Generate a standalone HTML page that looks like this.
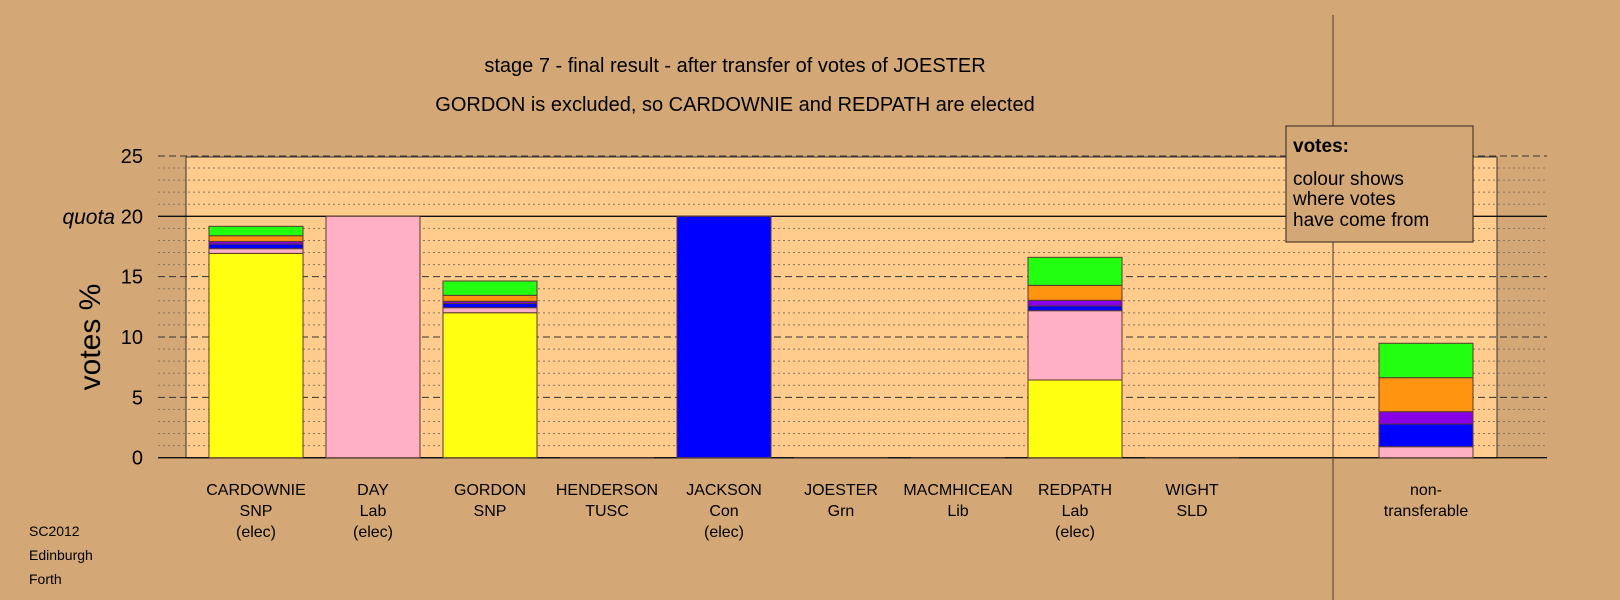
<!DOCTYPE html>
<html><head><meta charset="utf-8">
<style>
body{margin:0;background:#d4a876;}
svg{display:block;font-family:"Liberation Sans",sans-serif;}
</style></head>
<body>
<svg id="chart" width="1620" height="600" xmlns="http://www.w3.org/2000/svg">
<rect width="1620" height="600" fill="#d4a876"/>
<rect x="186" y="157" width="1311" height="301" fill="#ffcc8e" stroke="#333" stroke-width="1"/>
<g id="grid"></g>
<line x1="1333" y1="15" x2="1333" y2="600" stroke="#4a3a2a" stroke-width="1"/>
<g id="bars"></g>
<g id="ylabels"></g>
<g id="xlabels"></g>
<text x="735" y="72" font-size="20" text-anchor="middle">stage 7 - final result - after transfer of votes of JOESTER</text>
<text x="735" y="111" font-size="20" text-anchor="middle">GORDON is excluded, so CARDOWNIE and REDPATH are elected</text>
<text transform="translate(100,337) rotate(-90)" font-size="30" text-anchor="middle">votes %</text>
<text x="115" y="224" font-size="21" font-style="italic" text-anchor="end">quota</text>
<g>
<rect x="1286" y="126" width="187" height="116" fill="#d4a876" stroke="#4a3a2a" stroke-width="1.2"/>
<text x="1293" y="152" font-size="19" font-weight="bold">votes:</text>
<text x="1293" y="185" font-size="19">colour shows</text>
<text x="1293" y="205" font-size="19">where votes</text>
<text x="1293" y="226" font-size="19">have come from</text>
</g>
<g font-size="14">
<text x="29" y="536">SC2012</text>
<text x="29" y="560">Edinburgh</text>
<text x="29" y="584">Forth</text>
</g>
</svg>
<script>
const categories=["CARDOWNIE","DAY","GORDON","HENDERSON","JACKSON","JOESTER","MACMHICEAN","REDPATH","WIGHT","","non-"];
const parties=["SNP","Lab","SNP","TUSC","Con","Grn","Lib","Lab","SLD","","transferable"];
const elected=["(elec)","(elec)","","","(elec)","","","(elec)","","",""];
const segColors=["#ffff12","#ffb0c4","#ffb0c4","#0000ff","#8a00e6","#ff9410","#22ff11"];
const firstPref=[16.93,0,12.01,0,0,0,0,6.44,0,0,0];
const pinkVotes=[0.39,20,0.42,0,0,0,0,5.74,0,0,0.91];
const blueVotes=[0.38,0,0.36,0,20,0,0,0.39,0,0,1.88];
const purpleVotes=[0.22,0,0.17,0,0,0,0,0.47,0,0,1.02];
const orangeVotes=[0.47,0,0.49,0,0,0,0,1.24,0,0,2.82];
const greenVotes=[0.78,0,1.19,0,0,0,0,2.32,0,0,2.85];
const yTicks=[0,5,10,15,20,25];
const NS="http://www.w3.org/2000/svg";
const y0=457.7,yUnit=12.07,barX0=209,barStep=117,barW=94;
function yScale(v){return y0-v*yUnit;}
function xScale(i){return barX0+i*barStep;}
function mk(tag,attrs,parent){const e=document.createElementNS(NS,tag);for(const k in attrs)e.setAttribute(k,attrs[k]);parent.appendChild(e);return e;}
const grid=document.getElementById('grid');
for(let v=0;v<=25;v++){
  const y=yScale(v);
  let dash,col,w;
  if(v===0||v===20){dash="";col="#111";w=1.4;}
  else if(v%5===0){dash="7,4";col="#333";w=1;}
  else{dash="2,3";col="#8a7560";w=1;}
  const l=mk('line',{x1:158,x2:1547,y1:y,y2:y,stroke:col,'stroke-width':w},grid);
  if(dash)l.setAttribute('stroke-dasharray',dash);
  
  
}
const yl=document.getElementById('ylabels');
yTicks.forEach(t=>{
  const tx=mk('text',{x:143,y:yScale(t)+7,'font-size':20,'text-anchor':'end'},yl);
  tx.textContent=t;
  
  
});
const bars=document.getElementById('bars');
const series=[firstPref,pinkVotes,pinkVotes,blueVotes,purpleVotes,orangeVotes,greenVotes];
categories.forEach((c,i)=>{
  const segs=[firstPref[i],0,pinkVotes[i],blueVotes[i],purpleVotes[i],orangeVotes[i],greenVotes[i]];
  let base=0;
  segs.forEach((v,s)=>{
    if(v<=0)return;
    const r=mk('rect',{x:xScale(i),y:yScale(base+v),width:barW,height:v*yUnit,fill:segColors[s],stroke:"#5a3a30",'stroke-width':1},bars);
    
    
    base+=v;
  });
  if(base===0&&c!==""){
    const l=mk('line',{x1:xScale(i),x2:xScale(i)+barW,y1:y0,y2:y0,stroke:"#5a3a30"},bars);
    
    
  }
});
const xl=document.getElementById('xlabels');
categories.forEach((c,i)=>{
  const cx=xScale(i)+barW/2;
  [c,parties[i],elected[i]].forEach((t,k)=>{
    if(!t)return;
    const tx=mk('text',{x:cx,y:495+k*21,'font-size':16,'text-anchor':'middle'},xl);
    tx.textContent=t;
    
    
  });
});
</script>
</body></html>
